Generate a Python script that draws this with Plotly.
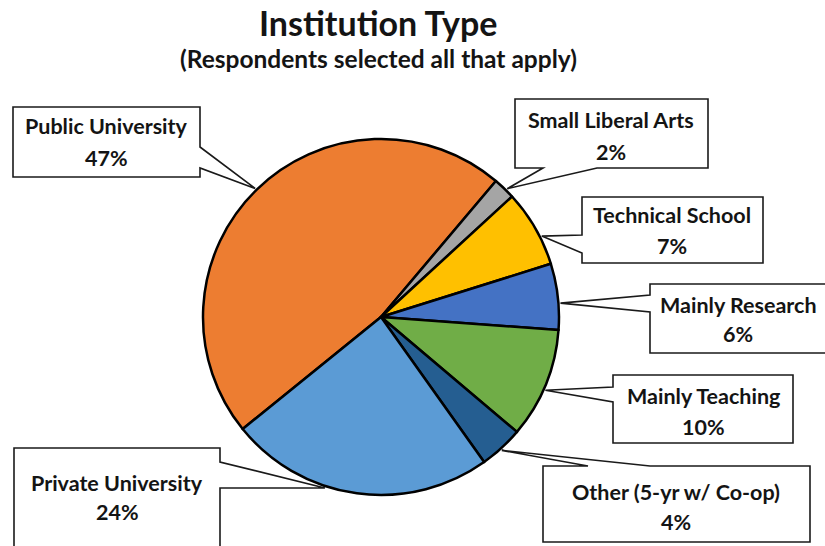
import math
import plotly.graph_objects as go

# Survey shares, in clockwise order starting from "Public University"
categories = [
    "Public University",
    "Small Liberal Arts",
    "Technical School",
    "Mainly Research",
    "Mainly Teaching",
    "Other (5-yr w/ Co-op)",
    "Private University",
]
shares = [47, 2, 7, 6, 10, 4, 24]
colors = ["#ED7D31", "#A5A5A5", "#FFC000", "#4472C4", "#70AD47", "#255E91", "#5B9BD5"]

W, H = 825, 546
CX, CY, R = 381, 317, 178          # pie centre / radius in page pixels
ROTATION = 231                      # start angle of the first slice (deg, clockwise from 12 o'clock)

# Callout boxes: (left, top, right, bottom), side where the pointer leaves the box,
# the two base points of the pointer along that side, position of the anchor inside
# the slice (0..1), text centre x, name line y, percent line y
callouts = [
    dict(box=(13, 107, 200, 177), side="right", base=(147, 168), frac=0.50, tx=106, ny=126, py=158),
    dict(box=(515, 99, 708, 168), side="bottom", base=(543, 597), frac=0.60, tx=611, ny=120, py=152),
    dict(box=(582, 197, 763, 263), side="left", base=(235, 253), frac=0.63, tx=672, ny=215, py=246),
    dict(box=(650, 284, 830, 353), side="left", base=(295, 312), frac=0.60, tx=738, ny=305, py=334),
    dict(box=(613, 375, 793, 443), side="left", base=(387, 402), frac=0.55, tx=703, ny=396, py=427),
    dict(box=(543, 466, 810, 542), side="top", base=(588, 650), frac=0.53, tx=676, ny=492, py=522),
    dict(box=(14, 448, 220, 552), side="right", base=(462, 488), frac=0.62, tx=117, ny=483, py=512),
]

FONT = "Lato"
TEXT = "#141414"

fig = go.Figure()

# invisible cartesian layer so that annotations/shapes can use page pixels
fig.add_trace(go.Scatter(x=[], y=[], showlegend=False, hoverinfo="skip"))

fig.add_trace(go.Pie(
    labels=categories,
    values=shares,
    sort=False,
    direction="clockwise",
    rotation=ROTATION,
    textinfo="none",
    hoverinfo="label+percent",
    marker=dict(colors=colors, line=dict(color="#000000", width=2.5)),
    domain=dict(x=[(CX - R) / W, (CX + R) / W], y=[1 - (CY + R) / H, 1 - (CY - R) / H]),
    showlegend=False,
))

# slice boundaries from the data, used to anchor each callout pointer
total = sum(shares)
start = ROTATION
shapes = []
annotations = []
for name, val, c in zip(categories, shares, callouts):
    span = 360 * val / total
    ang = math.radians(start + span * c["frac"])
    start += span
    tipx = CX + (R + 2) * math.sin(ang)
    tipy = CY - (R + 2) * math.cos(ang)

    l, t, r, b = c["box"]
    p1, p2 = c["base"]
    if c["side"] == "right":
        pts = [(l, t), (r, t), (r, p1), (tipx, tipy), (r, p2), (r, b), (l, b)]
    elif c["side"] == "left":
        pts = [(l, t), (r, t), (r, b), (l, b), (l, p2), (tipx, tipy), (l, p1)]
    elif c["side"] == "bottom":
        pts = [(l, t), (r, t), (r, b), (p2, b), (tipx, tipy), (p1, b), (l, b)]
    else:  # top
        pts = [(l, t), (p1, t), (tipx, tipy), (p2, t), (r, t), (r, b), (l, b)]
    path = "M " + " L ".join(f"{x:.1f},{y:.1f}" for x, y in pts) + " Z"
    shapes.append(dict(type="path", path=path, xref="x", yref="y",
                       fillcolor="white", line=dict(color="#1a1a1a", width=1.6), layer="above"))

    for txt, y in ((name, c["ny"]), (f"{val}%", c["py"])):
        annotations.append(dict(x=c["tx"], y=y, xref="x", yref="y", text=txt, showarrow=False,
                                xanchor="center", yanchor="middle",
                                font=dict(family=FONT, size=21.5, color=TEXT, weight=700)))

annotations.append(dict(x=378, y=22, xref="x", yref="y", text="Institution Type", showarrow=False,
                        xanchor="center", yanchor="middle",
                        font=dict(family=FONT, size=34, color=TEXT, weight=700)))
annotations.append(dict(x=378, y=58, xref="x", yref="y", text="(Respondents selected all that apply)",
                        showarrow=False, xanchor="center", yanchor="middle",
                        font=dict(family=FONT, size=24.5, color=TEXT, weight=700)))

fig.update_layout(
    width=W, height=H,
    margin=dict(l=0, r=0, t=0, b=0),
    paper_bgcolor="white", plot_bgcolor="rgba(0,0,0,0)",
    xaxis=dict(range=[0, W], visible=False, fixedrange=True, domain=[0, 1]),
    yaxis=dict(range=[H, 0], visible=False, fixedrange=True, domain=[0, 1]),
    shapes=shapes,
    annotations=annotations,
)

fig.write_html("out.html")
